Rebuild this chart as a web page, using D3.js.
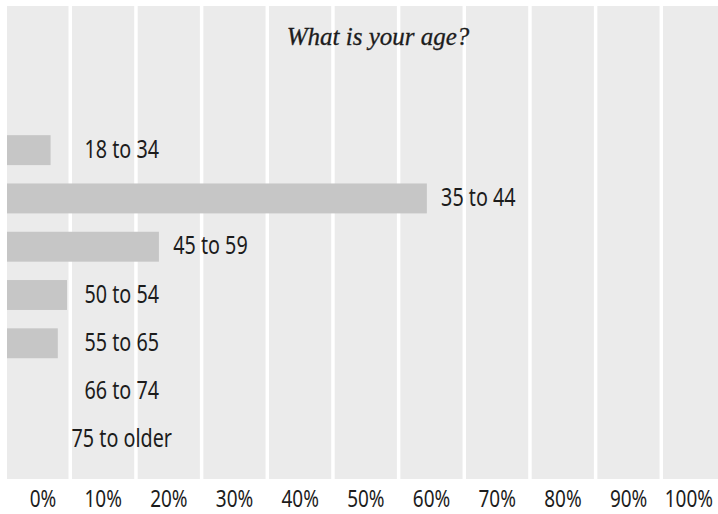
<!DOCTYPE html>
<html>
<head>
<meta charset="utf-8">
<script src="https://cdn.jsdelivr.net/npm/d3@7"></script>
<style>
  html, body { margin: 0; padding: 0; background: #ffffff; }
  svg { display: block; }
</style>
</head>
<body>
<svg id="chart" width="718" height="514"></svg>
<script>
// Survey responses: share of respondents by age group (percent)
const categories = ["18 to 34", "35 to 44", "45 to 59", "50 to 54", "55 to 65", "66 to 74", "75 to older"];
const values = [7, 64.3, 23.5, 9.5, 8.1, 0, 0];
const tickValues = [0, 10, 20, 30, 40, 50, 60, 70, 80, 90, 100];
const tickLabels = ["0%", "10%", "20%", "30%", "40%", "50%", "60%", "70%", "80%", "90%", "100%"];
const title = "What is your age?";

const svg = d3.select("#chart");
const panel = { left: 7, top: 6, right: 718, bottom: 479 };

const x = d3.scaleLinear().domain([0, 100]).range([4.6, 661.3]);
const y = d3.scaleBand()
  .domain(categories)
  .range([126, 464])
  .paddingInner(0.38)
  .paddingOuter(0.19);

const sansFont = "'Noto Sans', 'Open Sans', sans-serif";
const textColor = "#1c1c1c";
const squeeze = 0.79;

// plot background
svg.append("rect")
  .attr("x", panel.left).attr("y", panel.top)
  .attr("width", panel.right - panel.left)
  .attr("height", panel.bottom - panel.top)
  .attr("fill", "#ebebeb");

// white vertical gridlines at each 10% step
svg.append("g").selectAll("line")
  .data(tickValues.slice(1))
  .join("line")
  .attr("x1", d => x(d)).attr("x2", d => x(d))
  .attr("y1", panel.top).attr("y2", panel.bottom)
  .attr("stroke", "#ffffff")
  .attr("stroke-width", 3.5);

// title
svg.append("text")
  .attr("x", 378).attr("y", 45)
  .attr("text-anchor", "middle")
  .attr("font-family", "'Liberation Serif', 'Times New Roman', serif")
  .attr("font-style", "italic")
  .attr("font-size", 25)
  .attr("fill", textColor)
  .attr("stroke", textColor)
  .attr("stroke-width", 0.3)
  .text(title);

const rows = categories.map((c, i) => ({ cat: c, val: values[i] }));

// bars
svg.append("g").selectAll("rect")
  .data(rows.filter(d => d.val > 0))
  .join("rect")
  .attr("x", panel.left)
  .attr("y", d => y(d.cat))
  .attr("width", d => x(d.val) - panel.left)
  .attr("height", y.bandwidth())
  .attr("fill", "#c6c6c6");

// category labels, set just past the end of each bar
svg.append("g").selectAll("g")
  .data(rows)
  .join("g")
  .attr("transform", d => `translate(${Math.max(x(d.val), x(10)) + 51.5},${y(d.cat) + y.bandwidth() / 2 + 7.5}) scale(${squeeze},1)`)
  .append("text")
  .attr("text-anchor", "middle")
  .attr("font-family", sansFont)
  .attr("font-size", 25)
  .attr("fill", textColor)
  .text(d => d.cat);

// percentage axis labels
svg.append("g").selectAll("g")
  .data(tickValues)
  .join("g")
  .attr("transform", d => `translate(${x(d + 10) - 14},507) scale(${squeeze},1)`)
  .append("text")
  .attr("text-anchor", "end")
  .attr("font-family", sansFont)
  .attr("font-size", 24)
  .attr("fill", textColor)
  .text((d, i) => tickLabels[i]);
</script>
</body>
</html>
